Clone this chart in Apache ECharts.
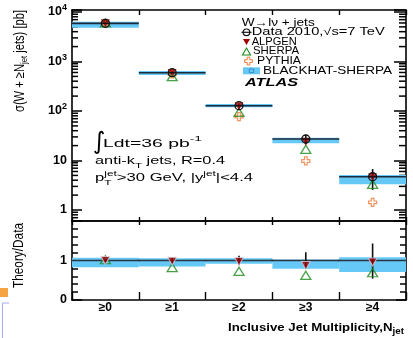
<!DOCTYPE html>
<html><head><meta charset="utf-8">
<script src="https://cdn.jsdelivr.net/npm/echarts@6/dist/echarts.min.js"></script>
<style>html,body{margin:0;padding:0;background:#fff}#c{width:413px;height:338px}</style>
</head><body><div id="c"></div>
<script>
// ---- data ----
const categories = ['≥0', '≥1', '≥2', '≥3', '≥4'];
const dataXsec = [5900, 594, 128, 27.2, 4.7];
const dataRelErrLow = [0.04, 0.06, 0.12, 0.21, 0.46];
const dataRelErrHigh = [0.04, 0.06, 0.12, 0.21, 0.43];
const alpgenXsec = [5900, 585, 125, 23.8, 4.6];
const sherpaXsec = [6000, 493, 94, 16.8, 3.3];
const pythiaXsec = [5900, 560, 77, 9.8, 1.43];
const bhXsecLow = [4820, 534, 119, 22.2, 3.3];
const bhXsecHigh = [6370, 643, 138, 28.9, 5.1];
const alpgenRatio = [1.0, 0.98, 0.975, 0.875, 0.96];
const sherpaRatio = [1.02, 0.82, 0.725, 0.625, 0.69];
const bhRatioLow = [0.83, 0.85, 0.92, 0.79, 0.71];
const bhRatioHigh = [1.07, 1.06, 1.06, 1.025, 1.08];
const logMinorTicks = [0.7, 0.8, 0.9, 2, 3, 4, 5, 6, 7, 8, 9, 20, 30, 40, 50, 60, 70, 80, 90,
  200, 300, 400, 500, 600, 700, 800, 900, 2000, 3000, 4000, 5000, 6000, 7000, 8000, 9000];

// ---- styles ----
const FONT = '"Liberation Sans", Arial, Helvetica, sans-serif';
const BAND = '#66c8f7';
const RED = '#a00000', GREEN = '#1a8a1a', ORANGE = '#f07838', INK = '#111';

const chart = echarts.init(document.getElementById('c'), null, {renderer: 'canvas', width: 413, height: 338});

const ctx = document.createElement('canvas').getContext('2d');
function tw(text, size, weight, style) { ctx.font = (style || 'normal') + ' ' + (weight || 'normal') + ' ' + size + 'px ' + FONT; return ctx.measureText(text).width; }

function bandRender(params, api) {
  const i = api.value(0);
  const lo = api.coord([i, api.value(1)]);
  const hi = api.coord([i, api.value(2)]);
  const w = api.size([1, api.value(1)])[0];
  return {type: 'rect', shape: {x: lo[0] - w / 2, y: hi[1], width: w, height: lo[1] - hi[1]}, style: {fill: BAND}};
}
function dataLineRender(params, api) {
  const i = api.value(0);
  const c = api.coord([i, api.value(1)]);
  const pl = api.coord([i, api.value(2)]);
  const ph = api.coord([i, api.value(3)]);
  const w = api.size([1, api.value(1)])[0];
  return {type: 'group', children: [
    {type: 'line', shape: {x1: c[0] - w / 2, y1: c[1], x2: c[0] + w / 2, y2: c[1]}, style: {stroke: '#1b2a38', lineWidth: 1.6}},
    {type: 'line', shape: {x1: c[0], y1: ph[1], x2: c[0], y2: pl[1]}, style: {stroke: INK, lineWidth: 1.6}}
  ]};
}
function dataCircleRender(params, api) {
  const c = api.coord([api.value(0), api.value(1)]);
  return {type: 'group', children: [
    {type: 'circle', shape: {cx: c[0], cy: c[1], r: 4}, style: {fill: 'none', stroke: INK, lineWidth: 1.3}},
    {type: 'line', shape: {x1: c[0] - 4, y1: c[1], x2: c[0] + 4, y2: c[1]}, style: {stroke: INK, lineWidth: 1.2}}
  ]};
}
function ratioDataRender(params, api) {
  const i = api.value(0);
  const c = api.coord([i, api.value(1)]);
  const pl = api.coord([i, api.value(2)]);
  const ph = api.coord([i, api.value(3)]);
  const w = api.size([1, 1])[0];
  return {type: 'group', children: [
    {type: 'line', shape: {x1: c[0] - w / 2 - 1, y1: c[1], x2: c[0] + w / 2 + 1, y2: c[1]}, style: {stroke: '#2a3540', lineWidth: 1.3}},
    {type: 'line', shape: {x1: c[0], y1: ph[1], x2: c[0], y2: pl[1]}, style: {stroke: INK, lineWidth: 1.6}}
  ]};
}

const idx = categories.map((_, i) => i);
const axLine = {show: true, onZero: false, lineStyle: {color: '#000', width: 1.6}};
function tick(len, w) { return {show: true, inside: true, length: len, lineStyle: {color: '#000', width: w || 1.5}}; }

function logLabel(v) {
  const l = Math.log10(v), k = Math.round(l);
  if (Math.abs(l - k) > 1e-6) return '';
  if (k === 0) return '1';
  if (k === 1) return '10';
  return '10{sup|' + k + '}';
}

const openTri = 'path://M5,0L10,9L0,9Z';
const openCross = 'path://M3,0H6V3H9V6H6V9H3V6H0V3H3Z';

const option = {
  animation: false,
  backgroundColor: '#fff',
  textStyle: {fontFamily: FONT},
  grid: [
    {left: 72, right: 7, top: 10, height: 211},
    {left: 72, right: 7, top: 221, height: 79}
  ],
  xAxis: [
    {type: 'category', gridIndex: 0, position: 'bottom', data: categories, axisLine: axLine,
     axisTick: tick(4, 1.4), axisLabel: {show: false}, splitLine: {show: false}},
    {type: 'category', gridIndex: 0, position: 'top', data: categories, axisLine: axLine,
     axisTick: tick(5, 1.4), axisLabel: {show: false}, splitLine: {show: false}},
    {type: 'category', gridIndex: 1, position: 'top', data: categories, axisLine: axLine,
     axisTick: tick(4, 1.4), axisLabel: {show: false}, splitLine: {show: false}},
    {type: 'category', gridIndex: 1, position: 'bottom', data: categories, axisLine: axLine,
     axisTick: tick(8, 1.4),
     axisLabel: {margin: 2, fontSize: 12, fontWeight: 'bold', color: '#000', fontFamily: FONT}, splitLine: {show: false}}
  ],
  yAxis: [
    {type: 'log', logBase: 10, gridIndex: 0, position: 'left', min: 0.6, max: 10965, axisLine: axLine,
     axisTick: tick(10),
     axisLabel: {margin: 5, color: '#000', fontSize: 12.5, fontWeight: 'bold', fontFamily: FONT, formatter: logLabel,
       rich: {sup: {fontSize: 9, fontWeight: 'bold', padding: [0, 0, 8, 0], fontFamily: FONT}}},
     splitLine: {show: false}, minorTick: {show: false}},
    {type: 'log', logBase: 10, gridIndex: 0, position: 'right', min: 0.6, max: 10965, axisLine: axLine,
     axisTick: tick(12), axisLabel: {show: false}, splitLine: {show: false}},
    {type: 'value', gridIndex: 1, position: 'left', min: 0, max: 2, interval: 1, axisLine: axLine,
     axisTick: tick(10),
     minorTick: {show: true, splitNumber: 5, length: 6, lineStyle: {color: '#000', width: 1.5}},
     axisLabel: {margin: 5, color: '#000', fontSize: 12.5, fontWeight: 'bold', fontFamily: FONT, showMaxLabel: false,
       formatter: v => (v === 2 ? '' : String(v))},
     splitLine: {show: false}, minorSplitLine: {show: false}},
    {type: 'value', gridIndex: 1, position: 'right', min: 0, max: 2, interval: 1, axisLine: axLine,
     axisTick: tick(10),
     minorTick: {show: true, splitNumber: 5, length: 6, lineStyle: {color: '#000', width: 1.5}},
     axisLabel: {show: false}, splitLine: {show: false}, minorSplitLine: {show: false}}
  ],
  series: [
    {type: 'custom', name: 'BLACKHAT-SHERPA', xAxisIndex: 0, yAxisIndex: 0, z: 1, renderItem: bandRender,
     encode: {x: 0, y: [1, 2]}, data: idx.map(i => [i, bhXsecLow[i], bhXsecHigh[i]])},
    {type: 'custom', name: 'Data line', xAxisIndex: 0, yAxisIndex: 0, z: 2, renderItem: dataLineRender,
     encode: {x: 0, y: [1, 2, 3]}, data: idx.map(i => [i, dataXsec[i], dataXsec[i] * (1 - dataRelErrLow[i]), dataXsec[i] * (1 + dataRelErrHigh[i])])},
    {type: 'scatter', name: 'PYTHIA', xAxisIndex: 0, yAxisIndex: 0, z: 3, symbol: openCross, symbolSize: 8,
     itemStyle: {color: 'rgba(255,255,255,0)', borderColor: ORANGE, borderWidth: 1.2}, data: idx.map(i => [i, pythiaXsec[i]])},
    {type: 'scatter', name: 'SHERPA', xAxisIndex: 0, yAxisIndex: 0, z: 4, symbol: openTri, symbolSize: [10, 8],
     itemStyle: {color: 'rgba(255,255,255,0)', borderColor: GREEN, borderWidth: 1.3}, data: idx.map(i => [i, sherpaXsec[i]])},
    {type: 'scatter', name: 'ALPGEN', xAxisIndex: 0, yAxisIndex: 0, z: 5, symbol: 'triangle', symbolRotate: 180, symbolSize: [9, 8],
     itemStyle: {color: RED}, data: idx.map(i => [i, alpgenXsec[i]])},
    {type: 'custom', name: 'Data', xAxisIndex: 0, yAxisIndex: 0, z: 6, renderItem: dataCircleRender,
     encode: {x: 0, y: 1}, data: idx.map(i => [i, dataXsec[i]])},
    {type: 'custom', name: 'BH ratio', xAxisIndex: 3, yAxisIndex: 2, z: 1, renderItem: bandRender,
     encode: {x: 0, y: [1, 2]}, data: idx.map(i => [i, bhRatioLow[i], bhRatioHigh[i]])},
    {type: 'custom', name: 'Data ratio', xAxisIndex: 3, yAxisIndex: 2, z: 2, renderItem: ratioDataRender,
     encode: {x: 0, y: [1, 2, 3]}, data: idx.map(i => [i, 1, 1 - dataRelErrLow[i], 1 + dataRelErrHigh[i]])},
    {type: 'scatter', name: 'SHERPA ratio', xAxisIndex: 3, yAxisIndex: 2, z: 4, symbol: openTri, symbolSize: [10, 8],
     itemStyle: {color: 'rgba(255,255,255,0)', borderColor: GREEN, borderWidth: 1.3}, data: idx.map(i => [i, sherpaRatio[i]])},
    {type: 'scatter', name: 'ALPGEN ratio', xAxisIndex: 3, yAxisIndex: 2, z: 5, symbol: 'triangle', symbolRotate: 180, symbolSize: [9, 8],
     itemStyle: {color: RED, borderColor: 'rgba(220,220,235,0.9)', borderWidth: 1}, data: idx.map(i => [i, alpgenRatio[i]])}
  ]
};
chart.setOption(option);

// ---- text, legend, minor ticks as graphics ----
const fs = 10.5;
const base = {fontFamily: FONT, fontSize: fs, fill: '#000', verticalAlign: 'middle', align: 'left'};
const g = [];

// minor ticks of the log axis (positions from the chart's own log scale), both sides
const x0 = chart.convertToPixel({xAxisIndex: 0}, 0);
const x4 = chart.convertToPixel({xAxisIndex: 0}, categories.length - 1);
const halfBand = (x4 - x0) / (2 * (categories.length - 1));
const leftX = x0 - halfBand, rightX = x4 + halfBand;
logMinorTicks.forEach(v => {
  const y = chart.convertToPixel({yAxisIndex: 0}, v);
  g.push({type: 'line', shape: {x1: leftX, y1: y, x2: leftX + 6, y2: y}, style: {stroke: '#000', lineWidth: 1.5}});
  g.push({type: 'line', shape: {x1: rightX - 7, y1: y, x2: rightX, y2: y}, style: {stroke: '#000', lineWidth: 1.5}});
});

function placeLine(x, y, segs, target) {
  const nat = segs.reduce((s, sg) => s + (sg.adv === false ? 0 : tw(sg.t, sg.size || fs, sg.w, sg.it)), 0);
  const k = target / nat;
  let cx = x;
  segs.forEach(sg => {
    g.push({type: 'text', x: cx, y: y + (sg.dy || 0), scaleX: k,
      style: Object.assign({}, base, {text: sg.t, fontSize: sg.size || fs, fontWeight: sg.w || 'normal', fontStyle: sg.it || 'normal'})});
    if (sg.adv !== false) cx += tw(sg.t, sg.size || fs, sg.w, sg.it) * k;
  });
}
// legend
placeLine(241.7, 22.7, [{t: 'W\u2192l\u03bd + jets'}], 73);
placeLine(251.7, 32.3, [{t: 'Data 2010,\u221as=7 TeV'}], 133);
placeLine(251.7, 41.9, [{t: 'ALPGEN'}], 45);
placeLine(253, 51.5, [{t: 'SHERPA'}], 46);
placeLine(257, 61.1, [{t: 'PYTHIA'}], 44);
placeLine(263, 70.7, [{t: 'BLACKHAT-SHERPA'}], 129);
placeLine(245, 83.3, [{t: 'ATLAS', w: 'bold', it: 'italic', size: 11.5}], 53);
const lx = 246.5;
g.push({type: 'line', shape: {x1: lx - 5, y1: 32.3, x2: lx + 5, y2: 32.3}, style: {stroke: INK, lineWidth: 1.2}});
g.push({type: 'circle', shape: {cx: lx, cy: 32.3, r: 3.3}, style: {fill: 'none', stroke: INK, lineWidth: 1.2}});
g.push({type: 'polygon', shape: {points: [[lx - 3.5, 39], [lx + 3.5, 39], [lx, 45]]}, style: {fill: RED}});
g.push({type: 'polygon', shape: {points: [[lx - 4, 55], [lx + 4, 55], [lx, 48]]}, style: {fill: 'none', stroke: GREEN, lineWidth: 1.1}});
const cx0 = lx + 2;
g.push({type: 'polygon', shape: {points: [[cx0 - 1.3, 57.2], [cx0 + 1.3, 57.2], [cx0 + 1.3, 59.7], [cx0 + 3.8, 59.7], [cx0 + 3.8, 62.4], [cx0 + 1.3, 62.4], [cx0 + 1.3, 65], [cx0 - 1.3, 65], [cx0 - 1.3, 62.4], [cx0 - 3.8, 62.4], [cx0 - 3.8, 59.7], [cx0 - 1.3, 59.7]]}, style: {fill: 'none', stroke: ORANGE, lineWidth: 1}});
g.push({type: 'rect', shape: {x: 243, y: 67.3, width: 17, height: 7}, style: {fill: BAND}});
g.push({type: 'rect', shape: {x: 249.3, y: 69, width: 4.4, height: 3.6}, style: {fill: 'none', stroke: '#2d7fb8', lineWidth: 0.8}});

// annotations
g.push({type: 'text', x: 93, y: 142.5, style: Object.assign({}, base, {text: '\u222b', fontSize: 24, fontFamily: '"DejaVu Sans", ' + FONT})});
placeLine(103, 144, [{t: 'Ldt=36 pb'}, {t: '-1', size: 7.5, dy: -5}], 99);
placeLine(95, 161.5, [{t: 'anti-k'}, {t: 'T', size: 7.5, dy: 4.5}, {t: ' jets, R=0.4'}], 130);
placeLine(95, 178.5, [{t: 'p'}, {t: 'T', size: 7.5, dy: 4.5, adv: false}, {t: 'jet', size: 7.5, dy: -5}, {t: '>30 GeV, |y'}, {t: 'jet', size: 7.5, dy: -5}, {t: '|<4.4'}], 158);

// axis titles
const ytNat = tw('\u03c3(W + \u2265N', 11.5) + tw('jet', 8) + tw(' jets) [pb]', 11.5);
g.push({type: 'text', x: 20, y: 10, rotation: Math.PI / 2, scaleX: 102 / ytNat, scaleY: 1.2,
  style: {text: '\u03c3(W + \u2265N{sub|jet} jets) [pb]', fontFamily: FONT, fontSize: 11.5, fill: '#000', align: 'right', verticalAlign: 'middle',
    rich: {sub: {fontSize: 8, padding: [7, 0, 0, 0], fontFamily: FONT}}}});
g.push({type: 'text', x: 19.5, y: 255.5, rotation: Math.PI / 2, scaleX: 65 / tw('Theory/Data', 12), scaleY: 1.2,
  style: {text: 'Theory/Data', fontFamily: FONT, fontSize: 12, fill: '#000', align: 'center', verticalAlign: 'middle'}});
const xtNat = tw('Inclusive Jet Multiplicity,N', 11.5, 'bold') + tw('jet', 8.5, 'bold');
g.push({type: 'text', x: 404, y: 328, scaleX: 176 / xtNat,
  style: {text: 'Inclusive Jet Multiplicity,N{sub|jet}', fontFamily: FONT, fontSize: 11.5, fontWeight: 'bold', fill: '#000', align: 'right', verticalAlign: 'middle',
    rich: {sub: {fontSize: 8.5, fontWeight: 'bold', padding: [8, 0, 0, 0], fontFamily: FONT}}}});

// edge fragments of the neighbouring figure
g.push({type: 'rect', shape: {x: 0, y: 288, width: 8, height: 9}, style: {fill: '#f5a444'}});
g.push({type: 'polyline', shape: {points: [[9, 303], [2.5, 303], [2.5, 338]]}, style: {fill: 'none', stroke: '#a8a8f0', lineWidth: 1}});

chart.setOption({graphic: {elements: g}});
</script>
</body></html>
